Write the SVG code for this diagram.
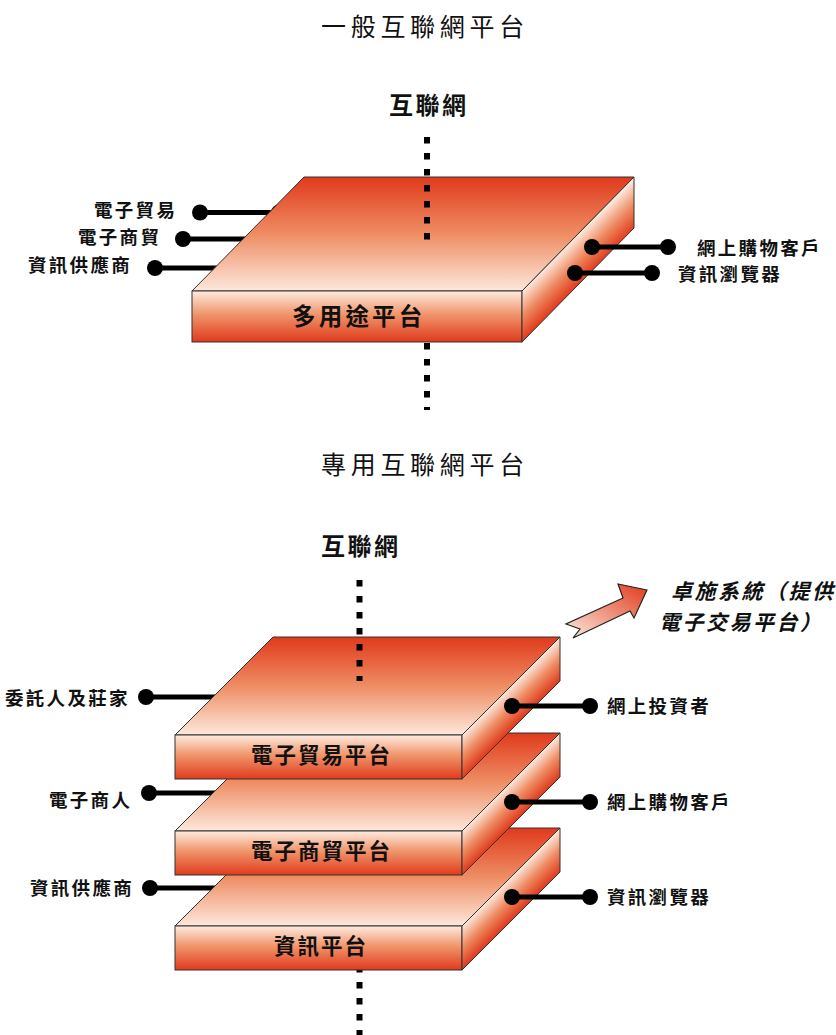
<svg xmlns="http://www.w3.org/2000/svg" width="836" height="1035" viewBox="0 0 836 1035">
<defs>
<linearGradient id="gTop" x1="0" y1="0" x2="0" y2="1">
<stop offset="0" stop-color="#e03a1c"/><stop offset="0.5" stop-color="#ee8d63"/><stop offset="1" stop-color="#fde8dc"/>
</linearGradient>
<linearGradient id="gFront" x1="0" y1="0" x2="0" y2="1">
<stop offset="0" stop-color="#fdebe0"/><stop offset="0.45" stop-color="#f0966c"/><stop offset="1" stop-color="#e03a1c"/>
</linearGradient>
<linearGradient id="gSideA" gradientUnits="userSpaceOnUse" x1="330" y1="0" x2="355.5" y2="25.5">
<stop offset="0" stop-color="#fde8dc"/><stop offset="0.5" stop-color="#ee8a60"/><stop offset="1" stop-color="#e03a1c"/>
</linearGradient>
<linearGradient id="gSideB" gradientUnits="userSpaceOnUse" x1="287" y1="0" x2="309" y2="22">
<stop offset="0" stop-color="#fde8dc"/><stop offset="0.5" stop-color="#ee8a60"/><stop offset="1" stop-color="#e03a1c"/>
</linearGradient>
<linearGradient id="gArrow" x1="0" y1="1" x2="1" y2="0">
<stop offset="0" stop-color="#fdebe0"/><stop offset="1" stop-color="#e03a1c"/>
</linearGradient>
</defs>
<style>
.face{stroke:#333;stroke-width:1}
.t{font-family:"Noto Sans CJK TC","Noto Sans CJK SC",sans-serif;fill:#111}
.title{font-size:25px;letter-spacing:4.7px;font-weight:normal}
.net{font-size:24px;font-weight:bold;letter-spacing:2.5px}
.plA{font-size:23.5px;font-weight:bold;letter-spacing:3.2px}
.plB{font-size:21.5px;font-weight:bold;letter-spacing:2px}
.lbl{font-size:18.5px;font-weight:bold;letter-spacing:2.3px}
.note{font-size:21px;font-weight:bold;font-style:italic;letter-spacing:2.5px}
.ln{stroke:#000;stroke-width:5;fill:none}
.dot{fill:#000}
.dash{stroke:#000;stroke-width:6;stroke-dasharray:6.5 9.5;fill:none}
</style>

<text class="t title" x="321" y="36">一般互聯網平台</text>
<text class="t net" x="389" y="114">互聯網</text>
<text class="t title" x="321" y="474">專用互聯網平台</text>
<text class="t net" x="321" y="555">互聯網</text>

<g id="connectors-back">
<path class="dash" d="M427,343 V410"/>
<path class="ln" d="M200,212.5 H300"/>
<circle class="dot" cx="200" cy="212.5" r="8"/>
<circle class="dot" cx="279" cy="212.5" r="8"/>
<path class="ln" d="M183,239 H300"/>
<circle class="dot" cx="183" cy="239" r="8"/>
<path class="ln" d="M155,268 H300"/>
<circle class="dot" cx="155" cy="268" r="8"/>
<path class="dash" d="M359.5,966 V1035"/>
<path class="ln" d="M146,697 H260"/>
<circle class="dot" cx="146" cy="697" r="8"/>
<path class="ln" d="M149,793 H260"/>
<circle class="dot" cx="149" cy="793" r="8"/>
<path class="ln" d="M150,888 H260"/>
<circle class="dot" cx="150" cy="888" r="8"/>
</g>

<g id="platform-multi" transform="translate(192,291)">
<polygon class="face" fill="url(#gTop)" points="0,0 112,-114 442,-114 330,0"/>
<rect class="face" fill="url(#gFront)" x="0" y="0" width="330" height="51"/>
<polygon class="face" fill="url(#gSideA)" points="330,0 442,-114 442,-63 330,51"/>
<text class="t plA" x="100" y="33.5">多用途平台</text>
</g>

<g id="platform-info" transform="translate(175,926)">
<polygon class="face" fill="url(#gTop)" points="0,0 98,-98 385,-98 287,0"/>
<rect class="face" fill="url(#gFront)" x="0" y="0" width="287" height="44"/>
<polygon class="face" fill="url(#gSideB)" points="287,0 385,-98 385,-54 287,44"/>
<text class="t plB" x="99" y="28">資訊平台</text>
</g>

<g id="platform-ecommerce" transform="translate(175,831)">
<polygon class="face" fill="url(#gTop)" points="0,0 98,-98 385,-98 287,0"/>
<rect class="face" fill="url(#gFront)" x="0" y="0" width="287" height="44"/>
<polygon class="face" fill="url(#gSideB)" points="287,0 385,-98 385,-54 287,44"/>
<text class="t plB" x="76" y="28">電子商貿平台</text>
</g>

<g id="platform-trading" transform="translate(175,735)">
<polygon class="face" fill="url(#gTop)" points="0,0 98,-98 385,-98 287,0"/>
<rect class="face" fill="url(#gFront)" x="0" y="0" width="287" height="44"/>
<polygon class="face" fill="url(#gSideB)" points="287,0 385,-98 385,-54 287,44"/>
<text class="t plB" x="76" y="28">電子貿易平台</text>
</g>

<g id="connectors-front">
<path class="dash" d="M427,137 V240"/>
<path class="ln" d="M592,247 H668"/>
<circle class="dot" cx="592" cy="247" r="8"/>
<circle class="dot" cx="668" cy="247" r="8"/>
<path class="ln" d="M575,273 H652"/>
<circle class="dot" cx="575" cy="273" r="8"/>
<circle class="dot" cx="652" cy="273" r="8"/>
<path class="dash" d="M359.5,580 V681"/>
<path class="ln" d="M512,706 H590"/>
<circle class="dot" cx="512" cy="706" r="8"/>
<circle class="dot" cx="590" cy="706" r="8"/>
<path class="ln" d="M512,802 H590"/>
<circle class="dot" cx="512" cy="802" r="8"/>
<circle class="dot" cx="590" cy="802" r="8"/>
<path class="ln" d="M512,897 H590"/>
<circle class="dot" cx="512" cy="897" r="8"/>
<circle class="dot" cx="590" cy="897" r="8"/>
</g>

<g id="labels">
<text class="t lbl" x="94" y="217">電子貿易</text>
<text class="t lbl" x="78" y="244">電子商貿</text>
<text class="t lbl" x="28" y="272">資訊供應商</text>
<text class="t lbl" x="697" y="254.5">網上購物客戶</text>
<text class="t lbl" x="678" y="280.5">資訊瀏覽器</text>
<text class="t lbl" x="5" y="704.5">委託人及莊家</text>
<text class="t lbl" x="49" y="806.5">電子商人</text>
<text class="t lbl" x="30" y="894.5">資訊供應商</text>
<text class="t lbl" x="607" y="712.5">網上投資者</text>
<text class="t lbl" x="607" y="808.5">網上購物客戶</text>
<text class="t lbl" x="607" y="903.5">資訊瀏覽器</text>
</g>

<g id="arrow">
<polygon fill="url(#gArrow)" stroke="#222" stroke-width="1.2" stroke-linejoin="miter" points="647,590 618,584 623,598 566,624 580,629 573,638 630,611 634,618"/>
</g>
<g id="note">
<text class="t note" x="671" y="599">卓施系統（提供</text>
<text class="t note" x="659" y="630">電子交易平台）</text>
</g>
</svg>
